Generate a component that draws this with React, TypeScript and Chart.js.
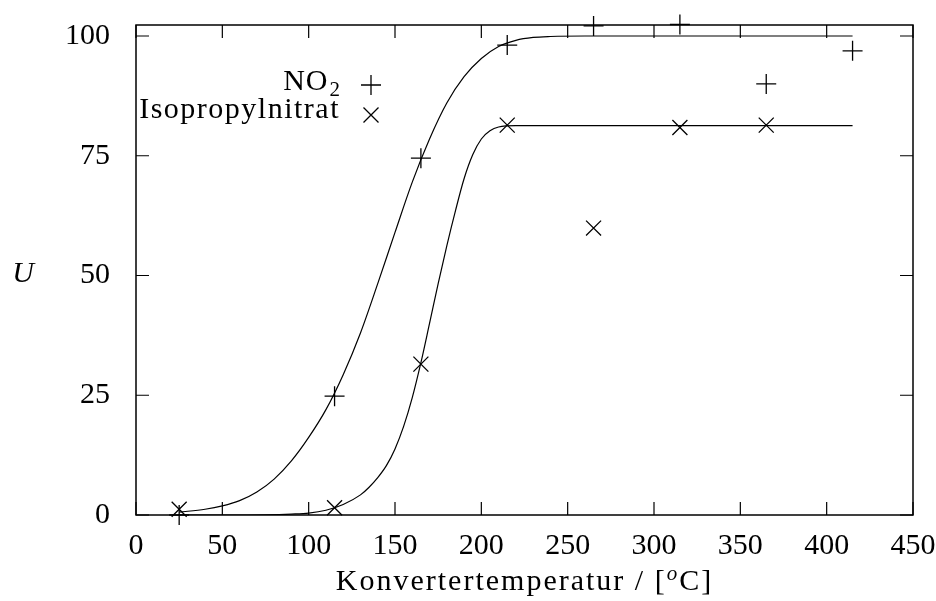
import React, { useEffect, useRef } from 'react';
import { Chart, registerables } from 'chart.js';

Chart.register(...registerables);

// Measured points
const no2X = [25, 115, 165, 215, 265, 315, 365, 415];
const no2Y = [0, 24.8, 74.5, 98.1, 102.1, 102.4, 90, 96.9];
const isoX = [25, 115, 165, 215, 265, 315, 365];
const isoY = [1.2, 1.5, 31.5, 81.4, 59.9, 80.9, 81.4];

// Fitted curves
const no2FitX = [25, 40, 50, 60, 70, 80, 90, 100, 110, 120, 130, 140, 150, 160, 170, 180, 190, 200, 210, 220, 230, 240, 260, 300, 350, 415];
const no2FitY = [0.6, 1.2, 1.9, 3.0, 4.8, 7.5, 11.3, 16.2, 22, 29.3, 38, 48.3, 59, 69.5, 78.5, 86, 91.5, 95.3, 97.8, 99.1, 99.7, 99.9, 100, 100, 100, 100];
const isoFitX = [25, 50, 75, 90, 100, 110, 120, 130, 135, 140, 145, 150, 155, 160, 165, 170, 175, 180, 185, 190, 195, 200, 205, 210, 220, 300, 415];
const isoFitY = [0, 0, 0.05, 0.2, 0.4, 1.0, 2.2, 4.2, 5.8, 7.8, 10.3, 13.8, 18.5, 24.5, 31.8, 40, 48.3, 56.2, 63.5, 70.2, 75.2, 78.5, 80.2, 81, 81.3, 81.3, 81.3];

const xTickValues = [0, 50, 100, 150, 200, 250, 300, 350, 400, 450];
const yTickValues = [0, 25, 50, 75, 100];
const xRange = [0, 450];
const yRange = [0, 102.3];

const legendLabels = ['NO', '2', 'Isopropylnitrat'];
const xTitleParts = ['Konvertertemperatur / [', 'o', 'C]'];
const yTitle = 'U';

const FONT = '"Liberation Serif", "Times New Roman", serif';

const zip = (xs: number[], ys: number[]) => xs.map((x, i) => ({ x, y: ys[i] }));

const framePlugin = {
  id: 'frame',
  afterDraw(chart: any) {
    const ctx = chart.ctx;
    const ca = chart.chartArea;
    const xs = chart.scales.x;
    const ys = chart.scales.y;
    const tl = 13;
    ctx.save();
    ctx.strokeStyle = '#000';
    ctx.lineWidth = 1.5;
    ctx.strokeRect(ca.left, ca.top, ca.right - ca.left, ca.bottom - ca.top);
    ctx.lineWidth = 1.2;
    ctx.beginPath();
    xs.ticks.forEach((t: any) => {
      const px = xs.getPixelForValue(t.value);
      ctx.moveTo(px, ca.bottom);
      ctx.lineTo(px, ca.bottom - tl);
      ctx.moveTo(px, ca.top);
      ctx.lineTo(px, ca.top + tl);
    });
    ys.ticks.forEach((t: any) => {
      const py = ys.getPixelForValue(t.value);
      ctx.moveTo(ca.left, py);
      ctx.lineTo(ca.left + tl, py);
      ctx.moveTo(ca.right, py);
      ctx.lineTo(ca.right - tl, py);
    });
    ctx.stroke();

    ctx.fillStyle = '#000';
    ctx.textBaseline = 'alphabetic';

    // y title
    ctx.font = `italic 30px ${FONT}`;
    ctx.textAlign = 'center';
    ctx.fillText(yTitle, 23, 282);

    // x title with superscript
    ctx.textAlign = 'left';
    (ctx as any).letterSpacing = '2px';
    ctx.font = `30px ${FONT}`;
    const w1 = ctx.measureText(xTitleParts[0]).width;
    const w3 = ctx.measureText(xTitleParts[2]).width;
    ctx.font = `italic 21px ${FONT}`;
    const w2 = ctx.measureText(xTitleParts[1]).width;
    const total = w1 + w2 + w3;
    const cx = (ca.left + ca.right) / 2;
    let x0 = cx - total / 2;
    const base = 590;
    ctx.font = `30px ${FONT}`;
    ctx.fillText(xTitleParts[0], x0, base);
    ctx.font = `italic 21px ${FONT}`;
    ctx.fillText(xTitleParts[1], x0 + w1, base - 10);
    ctx.font = `30px ${FONT}`;
    ctx.fillText(xTitleParts[2], x0 + w1 + w2, base);

    // key
    const rx = ca.left + 204;
    const b1 = ca.top + 65;
    const b2 = ca.top + 93;
    ctx.textAlign = 'right';
    (ctx as any).letterSpacing = '0px';
    ctx.font = `21px ${FONT}`;
    const subW = ctx.measureText(legendLabels[1]).width;
    ctx.fillText(legendLabels[1], rx, b1 + 6);
    (ctx as any).letterSpacing = '1px';
    ctx.font = `30px ${FONT}`;
    ctx.fillText(legendLabels[0], rx - subW - 1, b1);
    (ctx as any).letterSpacing = '1.5px';
    ctx.fillText(legendLabels[2], rx, b2);
    (ctx as any).letterSpacing = '0px';

    const sx = ca.left + 235;
    const s1 = ca.top + 60;
    const s2 = ca.top + 90;
    const r = 10;
    const d = 7.5;
    ctx.lineWidth = 1.3;
    ctx.beginPath();
    ctx.moveTo(sx - r, s1);
    ctx.lineTo(sx + r, s1);
    ctx.moveTo(sx, s1 - r);
    ctx.lineTo(sx, s1 + r);
    ctx.moveTo(sx - d, s2 - d);
    ctx.lineTo(sx + d, s2 + d);
    ctx.moveTo(sx - d, s2 + d);
    ctx.lineTo(sx + d, s2 - d);
    ctx.stroke();
    ctx.restore();
  },
};

export default function App() {
  const ref = useRef<HTMLCanvasElement | null>(null);
  useEffect(() => {
    if (!ref.current) return;
    const chart = new Chart(ref.current, {
      type: 'scatter',
      data: {
        datasets: [
          {
            label: 'NO2 fit',
            data: zip(no2FitX, no2FitY),
            showLine: true,
            pointRadius: 0,
            borderColor: '#000',
            borderWidth: 1.2,
            cubicInterpolationMode: 'monotone',
          } as any,
          {
            label: 'Iso fit',
            data: zip(isoFitX, isoFitY),
            showLine: true,
            pointRadius: 0,
            borderColor: '#000',
            borderWidth: 1.2,
            cubicInterpolationMode: 'monotone',
          } as any,
          {
            label: 'NO2',
            data: zip(no2X, no2Y),
            showLine: false,
            pointStyle: 'cross',
            pointRadius: 10,
            borderColor: '#000',
            borderWidth: 1.3,
            clip: false,
          } as any,
          {
            label: 'Isopropylnitrat',
            data: zip(isoX, isoY),
            showLine: false,
            pointStyle: 'crossRot',
            pointRadius: 10.6,
            borderColor: '#000',
            borderWidth: 1.3,
            clip: false,
          } as any,
        ],
      },
      options: {
        animation: false,
        responsive: false,
        devicePixelRatio: 1,
        events: [],
        layout: { padding: { top: 25, right: 23, left: 0, bottom: 0 } },
        plugins: {
          legend: { display: false },
          tooltip: { enabled: false },
        },
        scales: {
          x: {
            type: 'linear',
            min: xRange[0],
            max: xRange[1],
            grid: { display: false },
            border: { display: false },
            afterBuildTicks: (s: any) => {
              s.ticks = xTickValues.map((v) => ({ value: v }));
            },
            afterFit: (s: any) => {
              s.height = 86;
              s.paddingLeft = 0;
              s.paddingRight = 0;
            },
            ticks: {
              color: '#000',
              font: { family: FONT, size: 30 },
              padding: 5,
              maxRotation: 0,
              autoSkip: false,
            },
            title: { display: false },
          },
          y: {
            type: 'linear',
            min: yRange[0],
            max: yRange[1],
            grid: { display: false },
            border: { display: false },
            afterBuildTicks: (s: any) => {
              s.ticks = yTickValues.map((v) => ({ value: v }));
            },
            afterFit: (s: any) => {
              s.width = 136;
              s.paddingTop = 0;
              s.paddingBottom = 0;
            },
            ticks: {
              color: '#000',
              font: { family: FONT, size: 30 },
              padding: 18,
              autoSkip: false,
            },
          },
        },
      },
      plugins: [framePlugin],
    } as any);
    return () => chart.destroy();
  }, []);
  return (
    <div style={{ position: 'absolute', left: 0, top: 0, width: 936, height: 601, background: '#fff' }}>
      <canvas ref={ref} width={936} height={601} style={{ display: 'block' }} />
    </div>
  );
}
